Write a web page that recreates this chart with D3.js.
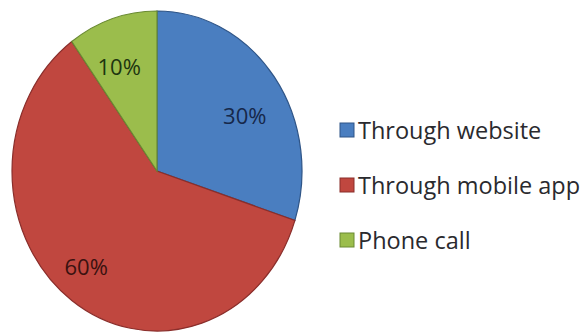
<!DOCTYPE html>
<html>
<head>
<meta charset="utf-8">
<script src="https://cdn.jsdelivr.net/npm/d3@7"></script>
<style>
  html, body { margin: 0; padding: 0; background: #ffffff; }
  svg { display: block; }
</style>
</head>
<body>
<svg id="chart" width="583" height="333"></svg>
<script>
// Chart data
const categories = ["Through website", "Through mobile app", "Phone call"];
const shares = [30, 60, 10];
const sliceLabels = ["30%", "60%", "10%"];
const fills = ["#4a7ec0", "#c0473f", "#9bbd4c"];
const edges = ["#2f5587", "#8a2e2b", "#6a8a33"];
const labelColors = ["#16284a", "#3a1210", "#1d3510"];

const svg = d3.select("#chart");

// Pie geometry: drawn as a circle, then stretched vertically into an ellipse
const cx = 157, cy = 171, r = 145, stretchY = 160 / 145;

const pie = d3.pie().sort(null).value(d => d.v);
const arcs = pie(shares.map((v, i) => ({ v, i })));
const arc = d3.arc().innerRadius(0).outerRadius(r);
const labelArc = d3.arc().innerRadius(r * 0.62).outerRadius(r * 0.62);

const g = svg.append("g")
  .attr("transform", `translate(${cx},${cy}) scale(1,${stretchY})`);

g.selectAll("path.slice")
  .data(arcs)
  .join("path")
  .attr("class", "slice")
  .attr("d", arc)
  .attr("fill", d => fills[d.data.i])
  .attr("stroke", d => edges[d.data.i])
  .attr("stroke-width", 1.2)
  .attr("vector-effect", "non-scaling-stroke");

// Percentage labels placed along each slice's mid-angle
const labelOffsets = [[15, 2], [-18, 15], [-10, -11]];
svg.selectAll("text.pct")
  .data(arcs)
  .join("text")
  .attr("class", "pct")
  .attr("x", d => cx + labelArc.centroid(d)[0] + labelOffsets[d.data.i][0])
  .attr("y", d => cy + labelArc.centroid(d)[1] * stretchY + labelOffsets[d.data.i][1])
  .attr("text-anchor", "middle")
  .attr("dominant-baseline", "central")
  .attr("font-family", "'Open Sans', sans-serif")
  .attr("font-size", 22)
  .attr("fill", d => labelColors[d.data.i])
  .text(d => sliceLabels[d.data.i]);

// Legend
const legendY = d3.scalePoint().domain(categories).range([130, 240]);
const legend = svg.append("g");
const rows = legend.selectAll("g.row")
  .data(categories)
  .join("g")
  .attr("class", "row")
  .attr("transform", d => `translate(340,${legendY(d)})`);

rows.append("rect")
  .attr("x", 0).attr("y", -7)
  .attr("width", 14).attr("height", 14)
  .attr("fill", (d, i) => fills[i])
  .attr("stroke", (d, i) => edges[i])
  .attr("stroke-width", 1);

rows.append("text")
  .attr("x", 18)
  .attr("y", 0)
  .attr("dominant-baseline", "central")
  .attr("font-family", "'Open Sans', sans-serif")
  .attr("font-size", 23.5)
  .attr("fill", "#2a2a2e")
  .text(d => d);
</script>
</body>
</html>
